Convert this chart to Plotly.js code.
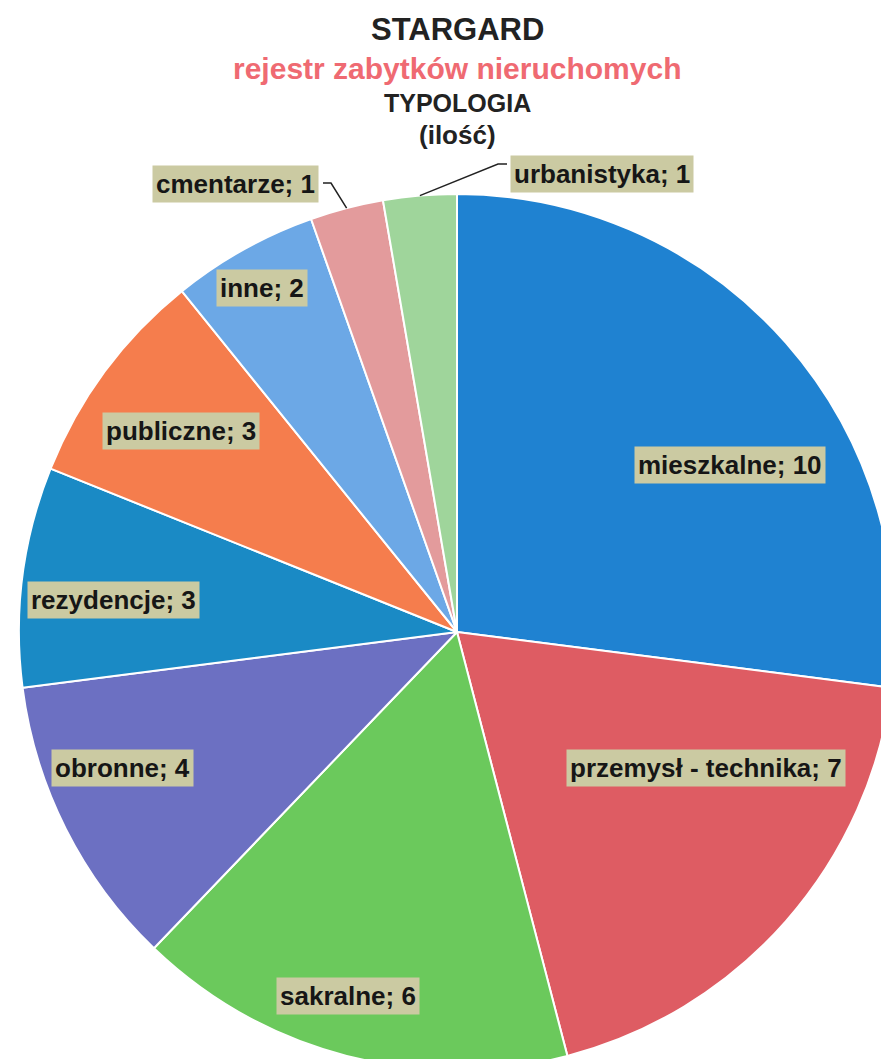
<!DOCTYPE html>
<html>
<head>
<meta charset="utf-8">
<script src="https://cdn.plot.ly/plotly-3.0.1.min.js"></script>
<style>
html,body{margin:0;padding:0;overflow:hidden;background:#fff;width:881px;height:1059px;}
#chart{position:absolute;left:0;top:0;width:900px;height:1080px;}
</style>
</head>
<body>
<div id="chart"></div>
<script>
// ---- data ----
const categories = ["mieszkalne", "przemysł - technika", "sakralne", "obronne", "rezydencje", "publiczne", "inne", "cmentarze", "urbanistyka"];
const counts = [10, 7, 6, 4, 3, 3, 2, 1, 1];
const sliceColors = ["#1f82d1", "#de5c63", "#6bc95c", "#6c70c2", "#1a8ac5", "#f57d4d", "#6ca8e6", "#e39b9c", "#9fd59b"];
const titleLines = ["STARGARD", "rejestr zabytków nieruchomych", "TYPOLOGIA", "(ilość)"];

// ---- layout helpers (pixel geometry of the page) ----
const W = 900, H = 1080;
const CX = 457, CY = 632, R = 438;
const px = x => x / W;
const py = y => 1 - y / H;

// label box centres (layout), and which labels use a leader line
const labelPos = [[730, 465], [706, 768], [348, 996], [123, 768], [113, 600], [181, 431], [262, 288], [235, 184], [602, 174]];
const leader = [null, null, null, null, null, null, null, [[323, 183], [331, 183]], [[507, 164], [498, 164]]];

const total = counts.reduce((a, b) => a + b, 0);
let cum = 0;
const annotations = [];
const shapes = [];
counts.forEach((v, i) => {
  const mid = (cum + v / 2) / total * 2 * Math.PI;
  cum += v;
  annotations.push({
    x: px(labelPos[i][0]), y: py(labelPos[i][1]), xref: 'paper', yref: 'paper',
    xanchor: 'center', yanchor: 'middle', showarrow: false,
    text: categories[i] + '; ' + v,
    font: {family: 'Liberation Sans, Arial, sans-serif', size: 26, color: '#161616', weight: 'bold'},
    bgcolor: '#cbcaa2', borderpad: 3
  });
  if (leader[i]) {
    const ex = CX + R * Math.sin(mid), ey = CY - R * Math.cos(mid);
    const p = leader[i];
    shapes.push({
      type: 'path', xref: 'paper', yref: 'paper',
      path: `M ${px(p[0][0])} ${py(p[0][1])} L ${px(p[1][0])} ${py(p[1][1])} L ${px(ex)} ${py(ey)}`,
      line: {color: '#222', width: 1.5}
    });
  }
});

const titleFont = 'Liberation Sans, Arial, sans-serif';
const titleSpec = [
  {y: 29, size: 31, color: '#222222'},
  {y: 68, size: 30, color: '#ef6a72'},
  {y: 103, size: 25, color: '#222222'},
  {y: 135, size: 26, color: '#222222'}
];
titleLines.forEach((t, i) => {
  annotations.push({
    x: px(457), y: py(titleSpec[i].y), xref: 'paper', yref: 'paper',
    xanchor: 'center', yanchor: 'middle', showarrow: false, text: t,
    font: {family: titleFont, size: titleSpec[i].size, color: titleSpec[i].color, weight: 'bold'}
  });
});

const trace = {
  type: 'pie',
  labels: categories,
  values: counts,
  sort: false,
  direction: 'clockwise',
  rotation: 0,
  textinfo: 'none',
  hoverinfo: 'label+value',
  marker: {colors: sliceColors, line: {color: '#ffffff', width: 2}},
  domain: {x: [px(CX - R), px(CX + R)], y: [py(CY + R), py(CY - R)]}
};

const layout = {
  width: W, height: H,
  margin: {l: 0, r: 0, t: 0, b: 0},
  showlegend: false,
  paper_bgcolor: '#ffffff',
  annotations: annotations,
  shapes: shapes
};

Plotly.newPlot('chart', [trace], layout, {staticPlot: true, displayModeBar: false});
</script>
</body>
</html>
